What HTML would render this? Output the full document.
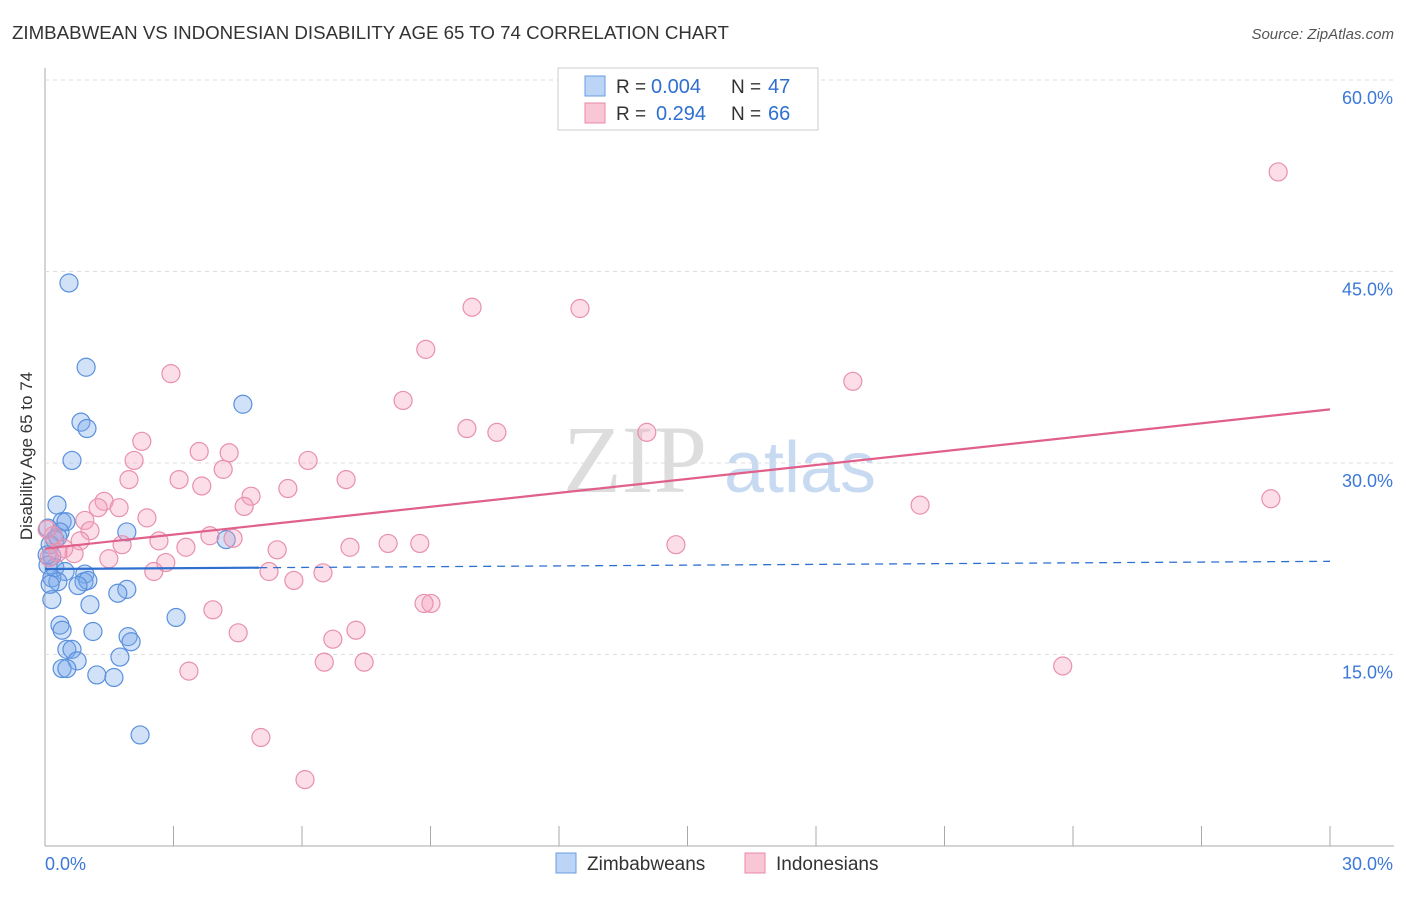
<!DOCTYPE html>
<html><head><meta charset="utf-8"><style>
body{margin:0;background:#fff;font-family:"Liberation Sans",sans-serif;}
#wrap{position:relative;width:1406px;height:892px;}
</style></head><body>
<div id="wrap">
<svg id="svg" width="1406" height="892">
<text x="12" y="39" font-size="18.7" fill="#333">ZIMBABWEAN VS INDONESIAN DISABILITY AGE 65 TO 74 CORRELATION CHART</text>
<text x="1394" y="39" font-size="15" fill="#555" text-anchor="end" font-style="italic">Source: ZipAtlas.com</text>
<text x="32" y="456" font-size="17" fill="#333" text-anchor="middle" transform="rotate(-90 32 456)">Disability Age 65 to 74</text>
<text x="635" y="492" font-size="96" fill="#ddd" text-anchor="middle" font-family="Liberation Serif">ZIP</text>
<text x="800" y="492" font-size="72" fill="#c8daf2" text-anchor="middle">atlas</text>
<g id="grid"></g><g id="marks"></g><g id="lines"></g>
<g>
<rect x="558" y="68" width="260" height="62" fill="#fff" stroke="#ccc"/>
<rect x="585" y="76" width="20" height="20" fill="#bcd4f5" stroke="#6a9de0"/>
<rect x="585" y="103" width="20" height="20" fill="#f9c6d5" stroke="#e98aa8"/>
<text x="616" y="93" font-size="19" fill="#333">R =</text>
<text x="651" y="93" font-size="20" fill="#2f6fd0">0.004</text>
<text x="731" y="93" font-size="19" fill="#333">N =</text>
<text x="768" y="93" font-size="20" fill="#2f6fd0">47</text>
<text x="616" y="120" font-size="19" fill="#333">R =</text>
<text x="656" y="120" font-size="20" fill="#2f6fd0">0.294</text>
<text x="731" y="120" font-size="19" fill="#333">N =</text>
<text x="768" y="120" font-size="20" fill="#2f6fd0">66</text>
</g>
<g>
<rect x="556" y="853" width="20" height="20" fill="#bcd4f5" stroke="#6a9de0"/>
<text x="587" y="870" font-size="19" fill="#333">Zimbabweans</text>
<rect x="745" y="853" width="20" height="20" fill="#f9c6d5" stroke="#e98aa8"/>
<text x="776" y="870" font-size="19" fill="#333">Indonesians</text>
</g>
</svg></div>
<script>
const xTicks=[0,30];
const yTicks=[15,30,45,60];
const zimX=[0.56,0.96,4.62,0.84,0.98,0.63,0.28,0.40,0.49,0.07,0.35,1.91,4.23,0.23,0.12,0.16,0.07,0.23,0.47,0.93,0.16,0.30,0.91,1.0,0.77,1.91,1.70,0.16,1.05,3.06,0.35,0.40,1.12,1.94,2.01,0.51,0.63,0.75,1.75,0.40,0.51,1.21,1.61,2.22,0.12,0.05,0.30];
const zimY=[44.1,37.5,34.6,33.2,32.7,30.2,26.7,25.4,25.4,24.9,24.6,24.6,24.0,24.0,23.6,22.7,22.0,21.8,21.5,21.3,21.0,20.7,20.7,20.8,20.4,20.1,19.8,19.3,18.9,17.9,17.3,16.9,16.8,16.4,16.0,15.4,15.4,14.5,14.8,13.9,13.9,13.4,13.2,8.7,20.5,22.8,24.2];
const indX=[28.79,9.97,12.49,8.89,18.86,2.94,8.36,9.85,10.55,14.05,2.26,3.60,4.30,2.08,6.14,4.16,1.96,3.13,7.03,3.66,5.67,4.81,1.38,28.62,1.24,1.73,20.43,4.65,2.38,0.93,1.05,0.19,3.85,4.39,2.66,0.82,1.80,8.01,8.75,14.73,3.29,7.12,0.44,0.68,5.42,1.49,2.82,2.54,5.23,6.49,5.81,9.01,3.92,7.26,4.51,6.72,3.36,6.52,7.45,23.76,5.04,6.07,0.05,0.30,8.85,0.10];
const indY=[52.8,42.2,42.1,38.9,36.4,37.0,34.9,32.7,32.4,32.4,31.7,30.9,30.8,30.2,30.2,29.5,28.7,28.7,28.7,28.2,28.0,27.4,27.0,27.2,26.5,26.5,26.7,26.6,25.7,25.5,24.7,24.3,24.3,24.1,23.9,23.9,23.6,23.7,23.7,23.6,23.4,23.4,23.3,22.9,23.2,22.5,22.2,21.5,21.5,21.4,20.8,19.0,18.5,16.9,16.7,16.2,13.7,14.4,14.4,14.1,8.5,5.2,24.8,23.0,19.0,22.6];
const zimTrend=[21.7,22.3];
const indTrend=[23.3,34.2];
const X0=45,X1=1330,Y0=846,YPER=191.5/15;
const sx=v=>X0+(X1-X0)*v/30, sy=v=>Y0-v*YPER;
const NS='http://www.w3.org/2000/svg';
function mk(t,a,p){const e=document.createElementNS(NS,t);for(const k in a)e.setAttribute(k,a[k]);p.appendChild(e);return e;}
const grid=document.getElementById('grid'),marks=document.getElementById('marks'),lines=document.getElementById('lines');
mk('line',{x1:45,y1:68,x2:45,y2:846,stroke:'#aaa'},grid);
mk('line',{x1:45,y1:846,x2:1394,y2:846,stroke:'#aaa'},grid);
for(const t of yTicks){
 const g=mk('line',{x1:45,y1:sy(t),x2:1394,y2:sy(t),stroke:'#ddd','stroke-dasharray':'4,4'},grid);
 
 
 const l=mk('text',{x:1393,y:sy(t)+24,'font-size':18,fill:'#3b78d8','text-anchor':'end'},grid);l.textContent=t.toFixed(1)+'%';
 
 
}
for(let i=1;i<=10;i++){const x=sx(i*3);mk('line',{x1:x,y1:826,x2:x,y2:846,stroke:'#aaa'},grid);}
xTicks.forEach((t,i)=>{const l=mk('text',{x:i?1393:45,y:870,'font-size':18,fill:'#3b78d8','text-anchor':i?'end':'start'},grid);l.textContent=t.toFixed(1)+'%';
 
 });
zimX.forEach((v,i)=>{const c=mk('circle',{cx:sx(v),cy:sy(zimY[i]),r:9,fill:'rgba(120,170,235,0.35)',stroke:'#5a90dc','stroke-width':1.2},marks);
 
 });
indX.forEach((v,i)=>{const c=mk('circle',{cx:sx(v),cy:sy(indY[i]),r:9,fill:'rgba(245,160,190,0.35)',stroke:'#e890ad','stroke-width':1.2},marks);
 
 });
const zy=x=>zimTrend[0]+(zimTrend[1]-zimTrend[0])*x/30;
let l1=mk('line',{x1:sx(0),y1:sy(zy(0)),x2:sx(5),y2:sy(zy(5)),stroke:'#2f6fd0','stroke-width':2.2},lines);


let l2=mk('line',{x1:sx(5),y1:sy(zy(5)),x2:sx(30),y2:sy(zy(30)),stroke:'#2f6fd0','stroke-width':1.3,'stroke-dasharray':'8,6'},lines);


let l3=mk('line',{x1:sx(0),y1:sy(indTrend[0]),x2:sx(30),y2:sy(indTrend[1]),stroke:'#e0608a','stroke-width':2.2},lines);


</script>
</body></html>
